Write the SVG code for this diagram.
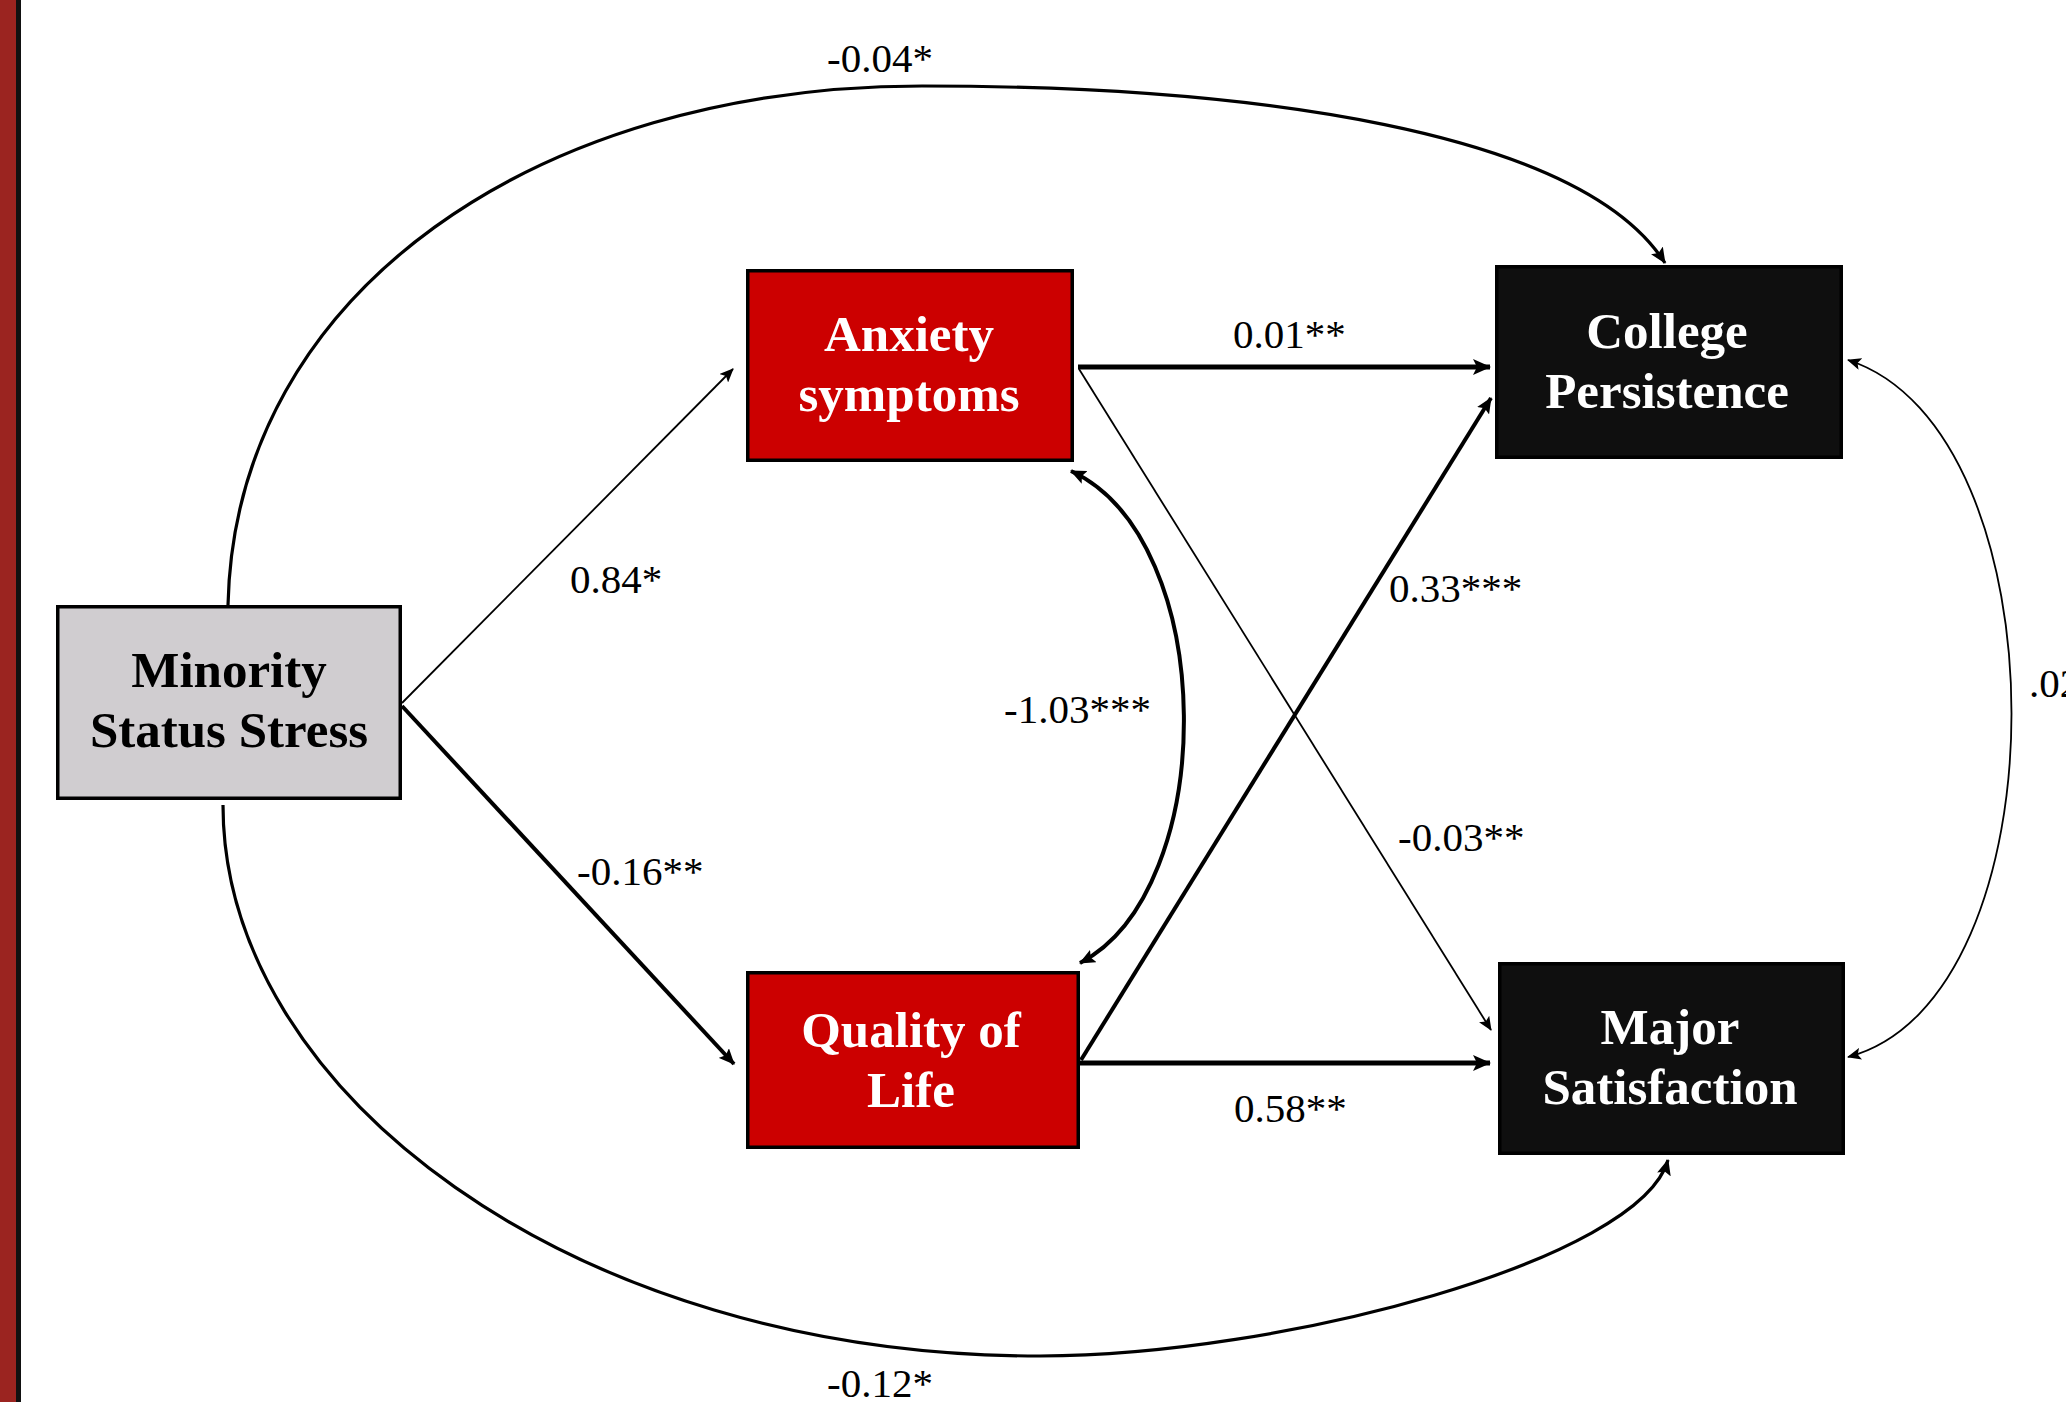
<svg xmlns="http://www.w3.org/2000/svg" width="2066" height="1402" viewBox="0 0 2066 1402">
<style>
.bg{fill:#ffffff}
.box{stroke:#000;stroke-width:3.5}
.red{fill:#cc0000}
.dark{fill:#0f0f0f}
.gray{fill:#d0cdd0}
.nl{font-family:"Liberation Serif","Times New Roman",serif;font-weight:bold;font-size:51px;text-anchor:middle}
.wt{fill:#ffffff}
.bk{fill:#000000}
.el{font-family:"Liberation Serif","Times New Roman",serif;font-size:41px;fill:#000}
.c{fill:none;stroke:#000}
.thick{stroke-width:5}
.med{stroke-width:4}
.arc{stroke-width:3.2}
.thin{stroke-width:1.8}
</style>
<defs>
<marker id="ahT" markerUnits="userSpaceOnUse" markerWidth="18" markerHeight="16" refX="17" refY="8" orient="auto-start-reverse">
<path d="M0,0 L18,8 L0,16 L4,8 z" fill="#000"/>
</marker>
<marker id="ahM" markerUnits="userSpaceOnUse" markerWidth="16" markerHeight="14" refX="15" refY="7" orient="auto-start-reverse">
<path d="M0,0 L16,7 L0,14 L3,7 z" fill="#000"/>
</marker>
<marker id="ahS" markerUnits="userSpaceOnUse" markerWidth="14" markerHeight="12" refX="13" refY="6" orient="auto-start-reverse">
<path d="M0,0 L14,6 L0,12 L3,6 z" fill="#000"/>
</marker>
</defs>
<rect class="bg" x="0" y="0" width="2066" height="1402"/>
<rect x="0" y="0" width="16" height="1402" fill="#9b2420"/>
<rect x="16" y="0" width="5" height="1402" fill="#111"/>

<g id="connectors">
<path class="c arc" d="M228 605 C235 290 540 86 922 86 C1250 86 1580 130 1665 263" marker-end="url(#ahM)"/>
<path class="c arc" d="M223 805 C223 1090 570 1356 1040 1356 C1280 1356 1640 1260 1668 1160" marker-end="url(#ahM)"/>
<path class="c thin" d="M402 703 L733 369" marker-end="url(#ahS)"/>
<path class="c med" d="M402 706 L734 1064" marker-end="url(#ahM)"/>
<path class="c thick" d="M1078 367 L1490 367" marker-end="url(#ahT)"/>
<path class="c thin" d="M1079 369 L1491 1030" marker-end="url(#ahS)"/>
<path class="c med" d="M1081 1060 L1491 398" marker-end="url(#ahM)"/>
<path class="c thick" d="M1079 1063 L1490 1063" marker-end="url(#ahT)"/>
<path class="c med" d="M1071 471 C1220 540 1220 890 1080 963" marker-start="url(#ahM)" marker-end="url(#ahM)"/>
<path class="c thin" d="M1848 360 C2066 430 2066 1000 1848 1057" marker-start="url(#ahS)" marker-end="url(#ahS)"/>
</g>

<g id="labels">
<text class="el" x="827" y="72">-0.04*</text>
<text class="el" x="570" y="593">0.84*</text>
<text class="el" x="577" y="885">-0.16**</text>
<text class="el" x="1233" y="348">0.01**</text>
<text class="el" x="1004" y="723">-1.03***</text>
<text class="el" x="1389" y="602">0.33***</text>
<text class="el" x="1398" y="851">-0.03**</text>
<text class="el" x="1234" y="1122">0.58**</text>
<text class="el" x="827" y="1397">-0.12*</text>
<text class="el" x="2029" y="697">.02</text>
</g>

<g id="minority">
<rect class="box gray" x="57.75" y="606.75" width="342.5" height="191.5"/>
<text class="nl bk" x="229" y="687">Minority</text>
<text class="nl bk" x="229" y="747">Status Stress</text>
</g>

<g id="anxiety">
<rect class="box red" x="747.75" y="270.75" width="324.5" height="189.5"/>
<text class="nl wt" x="909" y="351">Anxiety</text>
<text class="nl wt" x="909" y="411">symptoms</text>
</g>

<g id="quality">
<rect class="box red" x="747.75" y="972.75" width="330.5" height="174.5"/>
<text class="nl wt" x="911" y="1047">Quality of</text>
<text class="nl wt" x="911" y="1107">Life</text>
</g>

<g id="college">
<rect class="box dark" x="1496.75" y="266.75" width="344.5" height="190.5"/>
<text class="nl wt" x="1667" y="348">College</text>
<text class="nl wt" x="1667" y="408">Persistence</text>
</g>

<g id="major">
<rect class="box dark" x="1499.75" y="963.75" width="343.5" height="189.5"/>
<text class="nl wt" x="1670" y="1044">Major</text>
<text class="nl wt" x="1670" y="1104">Satisfaction</text>
</g>
</svg>
